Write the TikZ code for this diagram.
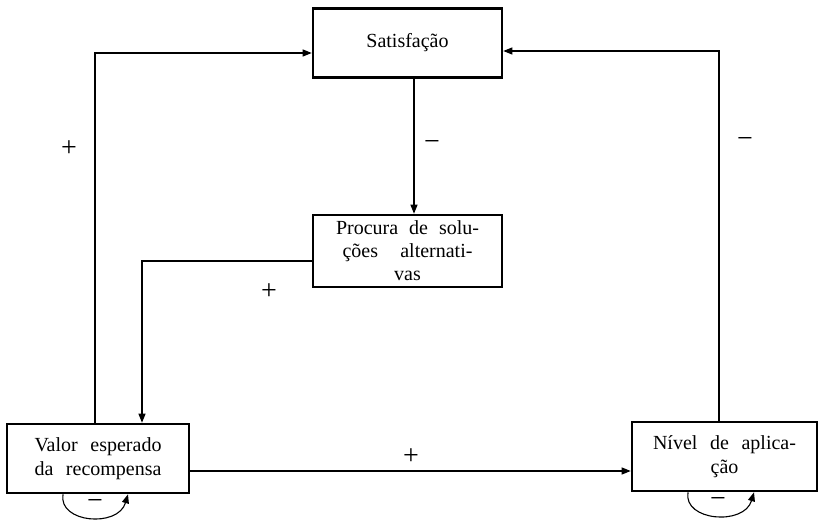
\documentclass[tikz,border=0pt]{standalone}
\usepackage{fontspec}
\setmainfont{Liberation Serif}
\usetikzlibrary{arrows.meta}
% a line stretched to a fixed width, spaces taking up the slack
\newcommand{\jline}[2]{\makebox[#1][s]{#2}}
\begin{document}
\begin{tikzpicture}[x=1pt,y=-1pt,
  blockbox/.style={draw,line width=2.6pt,inner sep=0pt,font=\fontsize{20}{24}\selectfont,align=center},
  link/.style={line width=1.1pt,-{Triangle[length=9pt,width=7pt]}},
  sign/.style={font=\fontsize{28}{28}\selectfont,inner sep=0pt}]
\useasboundingbox (0,0) rectangle (822,521);
% boxes
\node[blockbox,minimum width=189pt,minimum height=69pt] (sat) at (407.5,43) {Satisfação};
\node[blockbox,minimum width=189pt,minimum height=72pt] (proc) at (407.5,251)
  {\jline{143pt}{Procura de solu-}\\[-1pt]\jline{130pt}{ções alternati-}\hspace{13pt}\\[-1pt]vas};
\node[blockbox,minimum width=182pt,minimum height=69pt] (val) at (98,458.5)
  {\jline{127pt}{Valor esperado}\\\jline{127pt}{da recompensa}};
\node[blockbox,minimum width=185pt,minimum height=69pt] (niv) at (724.5,456.5)
  {\jline{143pt}{Nível de aplica-}\\ção};
% corner points
\coordinate (c1) at (95,53);
\coordinate (c2) at (719,51);
\coordinate (c3) at (142,261);
% connectors
\draw[link] (val.north -| c1) -- (c1) -- (sat.west |- c1);
\draw[link] (niv.north -| c2) -- (c2) -- (sat.east |- c2);
\draw[link] (sat.south -| 414,0) -- (proc.north -| 414,0);
\draw[link] (proc.west |- c3) -- (c3) -- (val.north -| c3);
\draw[link] (val.east |- 0,471) -- (niv.west |- 0,471);
% self loops
\coordinate (va) at (63,493);
\coordinate (vb) at (128,493);
\draw[link] (val.south -| va) .. controls (58,523) and (118,528) .. (val.south -| vb);
\coordinate (na) at (688,491);
\coordinate (nb) at (754,491);
\draw[link] (niv.south -| na) .. controls (683,521) and (744,526) .. (niv.south -| nb);
% signs
\node[sign] (s1) at (69,149) {+};
\node[sign] (s2) at (432,146) {\char"2212};
\node[sign] (s3) at (269,292) {+};
\node[sign] (s4) at (411,457) {+};
\node[sign] (s5) at (745,143) {\char"2212};
\node[sign] (s6) at (95,505) {\char"2212};
\node[sign] (s7) at (718,503) {\char"2212};
\end{tikzpicture}
\end{document}
